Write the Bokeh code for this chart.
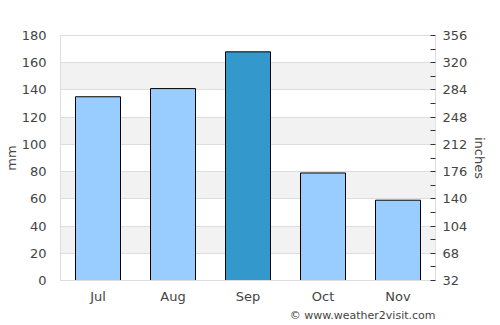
from bokeh.plotting import figure
from bokeh.models import Range1d, LinearAxis, FixedTicker, Title
from bokeh.embed import file_html
from bokeh.resources import INLINE

months = ["Jul", "Aug", "Sep", "Oct", "Nov"]
rain_mm = [135, 141, 168, 79, 59]
bar_colors = ["#99ccff", "#99ccff", "#3399cc", "#99ccff", "#99ccff"]
mm_ticks = [0, 20, 40, 60, 80, 100, 120, 140, 160, 180]
right_ticks = [32, 68, 104, 140, 176, 212, 248, 284, 320, 356]
right_minor = [50, 86, 122, 158, 194, 230, 266, 302, 338]

FONT = "DejaVu Sans"
TXT = "#444444"

p = figure(width=500, height=325, x_range=months, y_range=Range1d(0, 180),
           output_backend="svg", toolbar_location=None,
           min_border_left=60, min_border_right=65, min_border_top=35, min_border_bottom=45)
p.background_fill_color = "white"
p.border_fill_color = "white"
p.outline_line_color = "#dddddd"

p.vbar(x=months, top=rain_mm, width=0.6, fill_color=bar_colors, line_color="black", line_width=1)

p.yaxis.ticker = FixedTicker(ticks=mm_ticks)
p.yaxis.axis_label = "mm"
p.yaxis.axis_label_text_font = FONT
p.yaxis.axis_label_text_font_style = "normal"
p.yaxis.axis_label_text_font_size = "13px"
p.yaxis.axis_label_text_color = TXT
p.yaxis.major_label_text_font = FONT
p.yaxis.major_label_text_font_size = "13px"
p.yaxis.major_label_text_color = TXT
p.yaxis.major_tick_line_color = None
p.yaxis.minor_tick_line_color = None
p.yaxis.axis_line_color = "#dddddd"
p.yaxis.major_label_standoff = 8
p.yaxis.axis_label_standoff = 0

p.xaxis.major_label_text_font = FONT
p.xaxis.major_label_text_font_size = "13px"
p.xaxis.major_label_text_color = TXT
p.xaxis.major_tick_line_color = None
p.xaxis.axis_line_color = "#dddddd"
p.xaxis.major_label_standoff = 2

p.xgrid.grid_line_color = None
p.ygrid.grid_line_color = "#dddddd"
p.ygrid.band_fill_color = "#f2f2f2"
p.ygrid.band_fill_alpha = 1.0

p.extra_y_ranges = {"in": Range1d(32, 356)}
ax = LinearAxis(y_range_name="in", ticker=FixedTicker(ticks=right_ticks, minor_ticks=right_minor))
ax.axis_label = "inches"
ax.axis_label_text_font = FONT
ax.axis_label_text_font_style = "normal"
ax.axis_label_text_font_size = "13px"
ax.axis_label_text_color = TXT
ax.major_label_text_font = FONT
ax.major_label_text_font_size = "13px"
ax.major_label_text_color = TXT
ax.axis_line_color = None
ax.major_tick_in = 5
ax.major_tick_out = 0
ax.minor_tick_in = 5
ax.minor_tick_out = 0
ax.major_tick_line_color = "#333333"
ax.minor_tick_line_color = "#333333"
ax.major_label_standoff = 7
ax.axis_label_standoff = 2
p.add_layout(ax, "right")

credit = Title(text="© www.weather2visit.com", align="right", text_font=FONT,
               text_font_size="11px", text_font_style="normal", text_color=TXT,
               standoff=0, offset=0)
p.add_layout(credit, "below")
spacer = Title(text=" ", text_font_size="1px", standoff=0)
p.add_layout(spacer, "below")

open("out.html", "w").write(file_html(p, INLINE))
